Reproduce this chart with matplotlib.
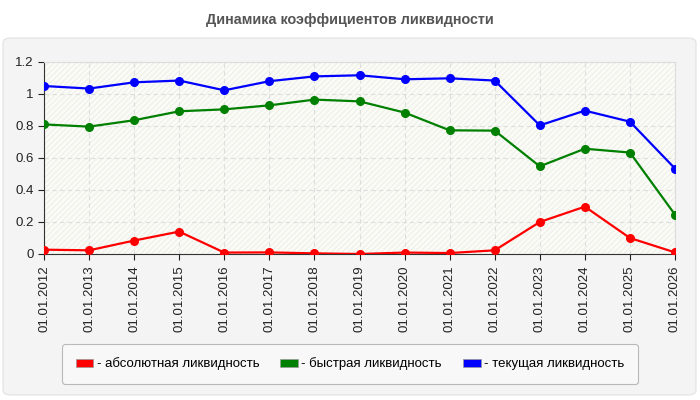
import matplotlib
matplotlib.use("Agg")
import matplotlib.pyplot as plt
from matplotlib.patches import FancyBboxPatch, Rectangle, Patch

plt.rcParams['font.family'] = ['Liberation Sans', 'DejaVu Sans']

dates = ["01.01.2012", "01.01.2013", "01.01.2014", "01.01.2015", "01.01.2016",
         "01.01.2017", "01.01.2018", "01.01.2019", "01.01.2020", "01.01.2021",
         "01.01.2022", "01.01.2023", "01.01.2024", "01.01.2025", "01.01.2026"]
absolute = [0.027, 0.023, 0.084, 0.14, 0.009, 0.01, 0.004, 0.0, 0.009, 0.006,
            0.023, 0.2, 0.296, 0.1, 0.01]
quick = [0.81, 0.796, 0.836, 0.892, 0.904, 0.929, 0.965, 0.954, 0.884, 0.773,
         0.771, 0.548, 0.658, 0.634, 0.246]
current = [1.05, 1.034, 1.073, 1.084, 1.023, 1.08, 1.11, 1.117, 1.092, 1.098,
           1.084, 0.804, 0.896, 0.827, 0.534]
series_names = ["- абсолютная ликвидность", "- быстрая ликвидность", "- текущая ликвидность"]
series_colors = ["#ff0000", "#008000", "#0000ff"]

fig = plt.figure(figsize=(7, 4), dpi=100)
fig.patch.set_facecolor("white")

# серая подложка со скруглёнными углами
panel = FancyBboxPatch((3 / 700, 5 / 400), 693 / 700, 357 / 400,
                       boxstyle="round,pad=0,rounding_size=0.012",
                       transform=fig.transFigure, facecolor="#f4f4f4",
                       edgecolor="#e2e2e2", linewidth=0.8, zorder=-5)
fig.patches.append(panel)

fig.text(0.5, 1 - 20 / 400, "Динамика коэффициентов ликвидности", ha="center", va="center",
         fontsize=10.4, fontweight="bold", color="#555555")

ax = fig.add_axes([44 / 700, 1 - 254 / 400, 631 / 700, 192 / 400])
ax.set_facecolor("#fcfcf6")
ax.add_patch(Rectangle((0, 0), 1, 1, transform=ax.transAxes, facecolor="none",
                       edgecolor="#f0f0ec", hatch="//////", linewidth=0, zorder=0))

x = list(range(len(dates)))
for vals, name, col in zip([absolute, quick, current], series_names, series_colors):
    ax.plot(x, vals, color=col, linewidth=1.6, marker="o", markersize=5.5, label=name, zorder=3)

ax.set_xlim(0, len(dates) - 1)
ax.set_ylim(0, 1.2)
ax.set_yticks([0, 0.2, 0.4, 0.6, 0.8, 1.0, 1.2])
ax.set_yticklabels(["0", "0.2", "0.4", "0.6", "0.8", "1", "1.2"])
ax.set_xticks(x)
ax.set_xticklabels(dates, rotation=90)
ax.tick_params(axis="both", labelsize=9.5, colors="#222222", length=4, width=0.8)
ax.tick_params(axis="x", pad=4)
ax.grid(True, color="#dddddd", linestyle=(0, (4, 3)), linewidth=0.8)
ax.set_axisbelow(True)
for side in ["top", "right"]:
    ax.spines[side].set_color("#dddddd")
for side in ["left", "bottom"]:
    ax.spines[side].set_color("#333333")

handles = [Patch(facecolor=c, edgecolor="#999999", linewidth=0.5) for c in series_colors]
leg = fig.legend(handles, series_names, loc="center", bbox_to_anchor=(350 / 700, 1 - 364 / 400),
                 ncol=3, frameon=True, fontsize=9.5, handlelength=1.33, handleheight=0.6,
                 handletextpad=0.27, columnspacing=1.6, borderpad=1.0, fancybox=True)
leg.get_frame().set_edgecolor("#aaaaaa")
leg.get_frame().set_facecolor("#fafafa")
leg.get_frame().set_linewidth(0.8)

fig.savefig("out.png", dpi=100, facecolor="white")
